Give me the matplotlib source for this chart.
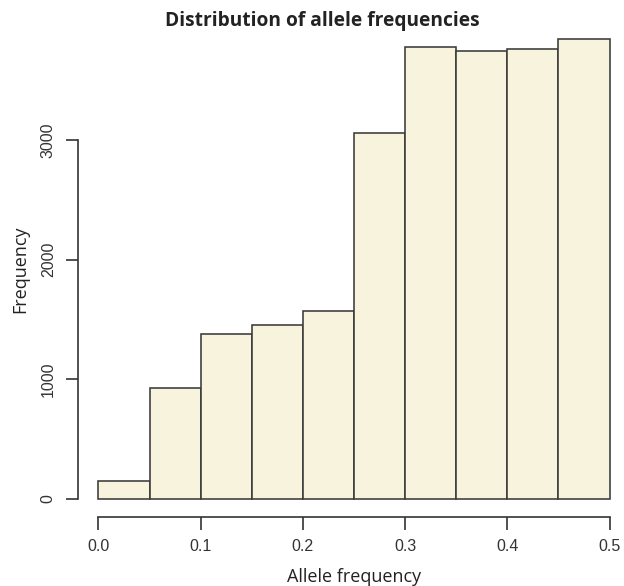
import matplotlib
matplotlib.use("Agg")
import matplotlib.pyplot as plt
import numpy as np

bin_edges = [0.0, 0.05, 0.1, 0.15, 0.2, 0.25, 0.3, 0.35, 0.4, 0.45, 0.5]
counts = [151, 928, 1377, 1453, 1573, 3059, 3779, 3746, 3763, 3846]
x_ticks = [0.0, 0.1, 0.2, 0.3, 0.4, 0.5]
x_tick_labels = ["0.0", "0.1", "0.2", "0.3", "0.4", "0.5"]
y_ticks = [0, 1000, 2000, 3000]

W, H = 624, 586
fig = plt.figure(figsize=(W / 100, H / 100), dpi=100)
left, right, top, bottom = 78, 630, 20.7, 517
ax = fig.add_axes([left / W, (H - bottom) / H, (right - left) / W, (bottom - top) / H])

lefts = np.array(bin_edges[:-1])
widths = np.diff(bin_edges)
ax.bar(lefts, counts, width=widths, align="edge", color="#F7F3DC",
       edgecolor="#3a3a3a", linewidth=1.15)

ymax = max(counts)
ax.set_xlim(-0.02, 0.52)
ax.set_ylim(-0.04 * ymax, 1.04 * ymax)

for s in ["top", "right"]:
    ax.spines[s].set_visible(False)
ax.spines["left"].set_bounds(0, 3000)
ax.spines["bottom"].set_bounds(0, 0.5)
for s in ["left", "bottom"]:
    ax.spines[s].set_linewidth(1.2)
    ax.spines[s].set_color("#333333")

ax.set_xticks(x_ticks)
ax.set_xticklabels(x_tick_labels)
ax.set_yticks(y_ticks)
ax.set_yticklabels([str(v) for v in y_ticks], rotation=90, va="center")
ax.tick_params(axis="both", length=9, width=1.2, color="#333333",
               labelsize=11.5, labelcolor="#333333", pad=7)
for lab in ax.get_xticklabels() + ax.get_yticklabels():
    lab.set_fontfamily("Liberation Sans")

ax.set_xlabel("Allele frequency", fontsize=13, fontfamily="Open Sans",
              color="#222222", labelpad=10)
ax.set_ylabel("Frequency", fontsize=13, fontfamily="Open Sans",
              color="#222222", labelpad=8)

fig.text(322 / W, 1 - 21 / H, "Distribution of allele frequencies",
         ha="center", va="center", fontsize=13.8, fontweight="bold",
         fontfamily="Open Sans", color="#222222")

fig.savefig("out.png", dpi=100)
